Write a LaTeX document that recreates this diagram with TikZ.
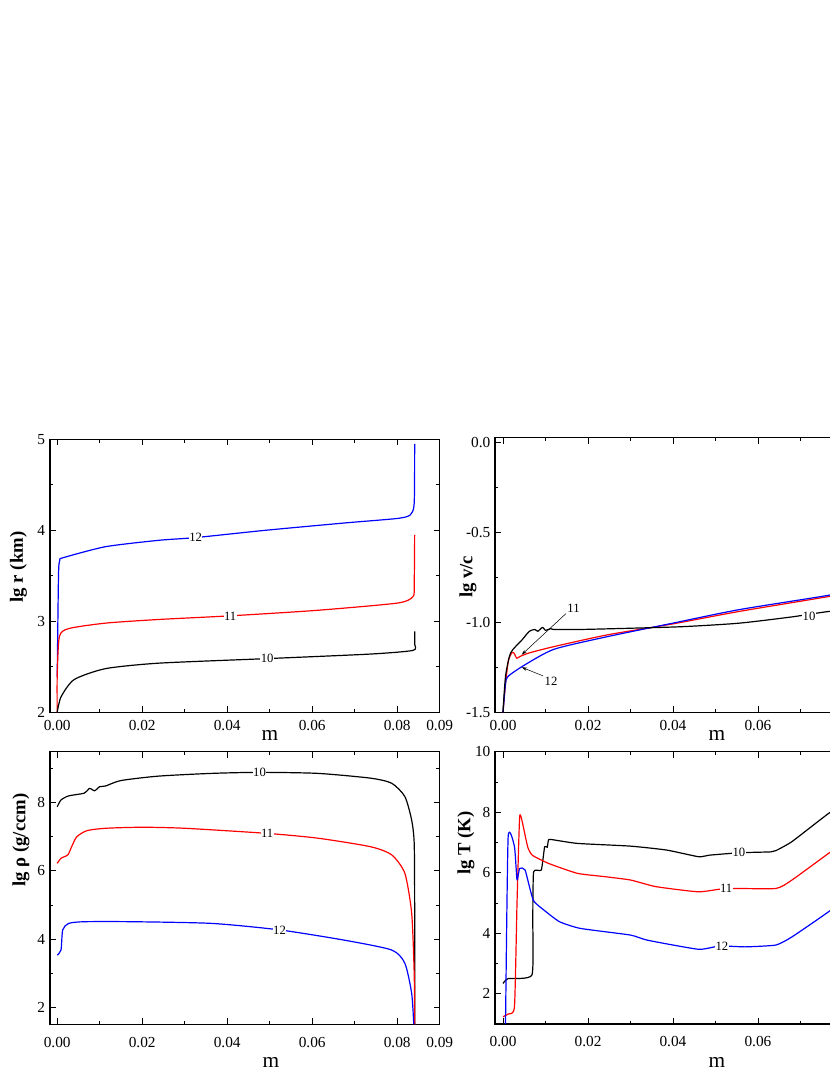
\documentclass[tikz,border=0pt]{standalone}
\usepackage{fontspec}
\setmainfont{Liberation Serif}
\usetikzlibrary{arrows.meta}
\definecolor{cblue}{RGB}{0,0,255}
\definecolor{cred}{RGB}{255,0,0}
\tikzset{
  frame/.style={line width=0.8pt},
  curve/.style={line width=0.9pt,line join=round},
  tk/.style={line width=0.6pt},
  ticklab/.style={font=\fontsize{11.5}{13}\selectfont, inner sep=1pt},
  axtitle/.style={font=\fontsize{14}{16}\selectfont\bfseries, rotate=90},
  mlab/.style={font=\fontsize{16}{18}\selectfont},
  clab/.style={font=\fontsize{9.5}{11}\selectfont, fill=white, inner sep=0.3pt},
}
\newcommand{\xticksP}[2]{% #1 = ybottom, #2 = ytop
  \foreach \m in {0,0.02,0.04,0.06,0.08}{
    \draw[tk] (\m,#1) -- ++(0,4.5pt); \draw[tk] (\m,#2) -- ++(0,-4.5pt);}
  \foreach \m in {0.01,0.03,0.05,0.07,0.09}{
    \draw[tk] (\m,#1) -- ++(0,2.5pt); \draw[tk] (\m,#2) -- ++(0,-2.5pt);}
}
\begin{document}
\begin{tikzpicture}[x=0.75pt,y=0.75pt]
\useasboundingbox (0,0) rectangle (830,1075);
% ================= Panel 1: lg r =================
\begin{scope}[shift={(57.2,180.7)},x=3187.5pt,y=68.25pt]
  \draw[frame] (-0.00169,2) rectangle (0.09,5);
  \xticksP{2}{5}
  \foreach \v in {2,3,4,5}{\draw[tk] (-0.00169,\v) -- ++(4.5pt,0); \draw[tk] (0.09,\v) -- ++(-4.5pt,0);
    \node[ticklab,anchor=east] at (-0.0025,\v) {\v};}
  \foreach \v in {2.5,3.5,4.5}{\draw[tk] (-0.00169,\v) -- ++(2.5pt,0); \draw[tk] (0.09,\v) -- ++(-2.5pt,0);}
  \foreach \m/\l in {0/0.00,0.02/0.02,0.04/0.04,0.06/0.06,0.08/0.08,0.09/0.09}{
    \node[ticklab,anchor=north] at (\m,1.93) {\l};}
  \draw[curve,cblue] plot[smooth,tension=0.4] coordinates{(0,2.39)(0.0003,3.5)(0.0006,3.67)(0.0015,3.70)(0.0114,3.82)(0.0239,3.89)(0.0326,3.92)(0.049,4.0)(0.0675,4.08)(0.080,4.13)(0.0831,4.17)(0.0840,4.3)(0.0841,4.95)};
  \draw[curve,cred] plot[smooth,tension=0.4] coordinates{(0,2)(0,2.4)(0.0005,2.83)(0.0027,2.92)(0.0114,2.98)(0.0239,3.02)(0.0407,3.06)(0.061,3.12)(0.080,3.2)(0.0837,3.27)(0.0840,3.4)(0.0841,3.95)};
  \draw[curve] plot[smooth,tension=0.4] coordinates{(0,2)(0.0009,2.17)(0.004,2.36)(0.0114,2.48)(0.0239,2.54)(0.0494,2.59)(0.0737,2.64)(0.0837,2.68)(0.0841,2.75)(0.0841,2.89)};
  \node[clab] at (0.0326,3.92) {12};
  \node[clab] at (0.0407,3.06) {11};
  \node[clab] at (0.0494,2.59) {10};
\end{scope}
\node[axtitle] (t1) at (18.5,508) {lg r (km)};
\node[mlab] (m1) at (270,340) {m};
% ================= Panel 2: lg v/c =================
\begin{scope}[shift={(503,632.7)},x=3187.5pt,y=135pt]
  \draw[frame] (-0.00188,-1.5) rectangle (0.09,0.026);
  \xticksP{-1.5}{0.026}
  \foreach \v/\l in {-1.5/-1.5,-1.0/-1.0,-0.5/-0.5,0/0.0}{\draw[tk] (-0.00188,\v) -- ++(4.5pt,0);
    \node[ticklab,anchor=east] at (-0.0026,\v) {\l};}
  \foreach \v in {-1.25,-0.75,-0.25}{\draw[tk] (-0.00188,\v) -- ++(2.5pt,0);}
  \foreach \m/\l in {0/0.00,0.02/0.02,0.04/0.04,0.06/0.06,0.08/0.08}{
    \node[ticklab,anchor=north] at (\m,-1.536) {\l};}
  \draw[curve,cred] plot[smooth,tension=0.4] coordinates{(0,-1.5)(0.0006,-1.34)(0.0013,-1.21)(0.0022,-1.167)(0.0027,-1.175)(0.0032,-1.2)(0.0040,-1.19)(0.0062,-1.17)(0.012,-1.135)(0.0245,-1.07)(0.0397,-1.01)(0.0555,-0.94)(0.0766,-0.857)(0.09,-0.80)};
  \draw[curve,cblue] plot[smooth,tension=0.4] coordinates{(0,-1.5)(0.0006,-1.34)(0.0012,-1.30)(0.0049,-1.24)(0.012,-1.15)(0.0245,-1.08)(0.0397,-1.006)(0.0555,-0.93)(0.0766,-0.85)(0.09,-0.79)};
  \draw[curve] plot[smooth,tension=0.4] coordinates{(0,-1.5)(0.0006,-1.30)(0.0018,-1.17)(0.0044,-1.10)(0.0062,-1.05)(0.0075,-1.04)(0.0082,-1.05)(0.0093,-1.028)(0.0100,-1.045)(0.0112,-1.035)(0.012,-1.04)(0.018,-1.04)(0.030,-1.033)(0.0425,-1.024)(0.0555,-1.005)(0.068,-0.97)(0.0766,-0.94)(0.09,-0.91)};
  \node[clab] at (0.072,-0.965) {10};
  \node[font=\fontsize{9.5}{11}\selectfont, inner sep=1pt] (l11) at (0.0166,-0.92) {11};
  \node[font=\fontsize{9.5}{11}\selectfont, inner sep=1pt] (l12) at (0.0113,-1.33) {12};
  \coordinate (a11) at (0.0044,-1.18);
  \coordinate (a12) at (0.0044,-1.25);
  \draw[line width=0.4pt,-{Stealth[length=4pt,width=2.5pt]}] (l11.south west) -- (a11);
  \draw[line width=0.4pt,-{Stealth[length=4pt,width=2.5pt]}] (l12.north west) -- (a12);
\end{scope}
\node[axtitle] (t2) at (468,498) {lg v/c};
\node[mlab] (m2) at (717,340) {m};
% ================= Panel 3: lg rho =================
\begin{scope}[shift={(57.2,-0.5)},x=3187.5pt,y=25.575pt]
  \draw[frame] (-0.00169,1.5) rectangle (0.09,9.5);
  \xticksP{1.5}{9.5}
  \foreach \v in {2,4,6,8}{\draw[tk] (-0.00169,\v) -- ++(4.5pt,0); \draw[tk] (0.09,\v) -- ++(-4.5pt,0);
    \node[ticklab,anchor=east] at (-0.0025,\v) {\v};}
  \foreach \v in {3,5,7,9}{\draw[tk] (-0.00169,\v) -- ++(2.5pt,0); \draw[tk] (0.09,\v) -- ++(-2.5pt,0);}
  \foreach \m/\l in {0/0.00,0.02/0.02,0.04/0.04,0.06/0.06,0.08/0.08,0.09/0.09}{
    \node[ticklab,anchor=north] at (\m,1.18) {\l};}
  \draw[curve] plot[smooth,tension=0.4] coordinates{(0,7.88)(0.0009,8.08)(0.0027,8.2)(0.0064,8.28)(0.0076,8.42)(0.0088,8.35)(0.010,8.47)(0.0114,8.49)(0.015,8.65)(0.0239,8.78)(0.0364,8.86)(0.0476,8.89)(0.0613,8.86)(0.0737,8.72)(0.0787,8.57)(0.0818,8.18)(0.0834,7.49)(0.0840,6.81)(0.0841,5)(0.0841,1.5)};
  \draw[curve,cred] plot[smooth,tension=0.4] coordinates{(0,6.22)(0.0009,6.37)(0.0025,6.47)(0.0034,6.71)(0.0046,7.0)(0.007,7.18)(0.0114,7.25)(0.020,7.28)(0.030,7.25)(0.0494,7.1)(0.0613,6.96)(0.0737,6.71)(0.0787,6.47)(0.0818,5.93)(0.0834,4.76)(0.0840,3)(0.0841,1.5)};
  \draw[curve,cblue] plot[smooth,tension=0.4] coordinates{(0,3.53)(0.0009,3.68)(0.0013,4.27)(0.0027,4.46)(0.0064,4.51)(0.0176,4.51)(0.0364,4.46)(0.0523,4.27)(0.0675,3.97)(0.0787,3.68)(0.0818,3.29)(0.0834,2.41)(0.0839,1.5)};
  \node[clab] at (0.0476,8.89) {10};
  \node[clab] at (0.0494,7.1) {11};
  \node[clab] at (0.0523,4.27) {12};
\end{scope}
\node[axtitle] (t3) at (21,235) {lg ρ (g/ccm)};
\node[mlab] (m3) at (271,13) {m};
% ================= Panel 4: lg T =================
\begin{scope}[shift={(503,20.75)},x=3187.5pt,y=22.6875pt]
  \draw[frame] (-0.00188,1) rectangle (0.09,10);
  \xticksP{1}{10}
  \foreach \v in {2,4,6,8,10}{\draw[tk] (-0.00188,\v) -- ++(4.5pt,0);
    \node[ticklab,anchor=east] at (-0.0026,\v) {\v};}
  \foreach \v in {3,5,7,9}{\draw[tk] (-0.00188,\v) -- ++(2.5pt,0);}
  \foreach \m/\l in {0/0.00,0.02/0.02,0.04/0.04,0.06/0.06,0.08/0.08}{
    \node[ticklab,anchor=north] at (\m,0.64) {\l};}
  \draw[curve] plot[smooth,tension=0.3] coordinates{(0,2.34)(0.0012,2.5)(0.0068,2.62)(0.0070,4.5)(0.0072,6.03)(0.0090,6.09)(0.0098,6.86)(0.0104,6.84)(0.0107,7.08)(0.0113,7.1)(0.0175,6.97)(0.030,6.88)(0.0385,6.75)(0.046,6.53)(0.0485,6.58)(0.0555,6.66)(0.063,6.69)(0.0642,6.73)(0.068,7.03)(0.0766,7.96)(0.09,9.3)};
  \draw[curve,cred] plot[smooth,tension=0.3] coordinates{(0,1.24)(0.0012,1.33)(0.0027,1.57)(0.0033,4.99)(0.0039,7.83)(0.0045,7.7)(0.0058,6.86)(0.0069,6.58)(0.0107,6.31)(0.0175,5.98)(0.024,5.87)(0.030,5.76)(0.036,5.54)(0.046,5.37)(0.0525,5.48)(0.0642,5.48)(0.068,5.76)(0.0766,6.64)(0.09,8.0)};
  \draw[curve,cblue] plot[smooth,tension=0.3] coordinates{(0.0006,1.0)(0.0012,7.17)(0.0027,6.86)(0.0033,5.76)(0.0039,6.14)(0.0052,6.09)(0.0071,5.1)(0.0096,4.77)(0.0133,4.38)(0.0182,4.16)(0.030,3.94)(0.034,3.77)(0.046,3.47)(0.051,3.58)(0.057,3.55)(0.0642,3.61)(0.068,3.88)(0.0766,4.71)(0.09,6.1)};
  \node[clab] at (0.0555,6.66) {10};
  \node[clab] at (0.0525,5.48) {11};
  \node[clab] at (0.0515,3.57) {12};
\end{scope}
\node[axtitle] (t4) at (466,232) {lg T (K)};
\node[mlab] (m4) at (717,13) {m};
\end{tikzpicture}
\end{document}
